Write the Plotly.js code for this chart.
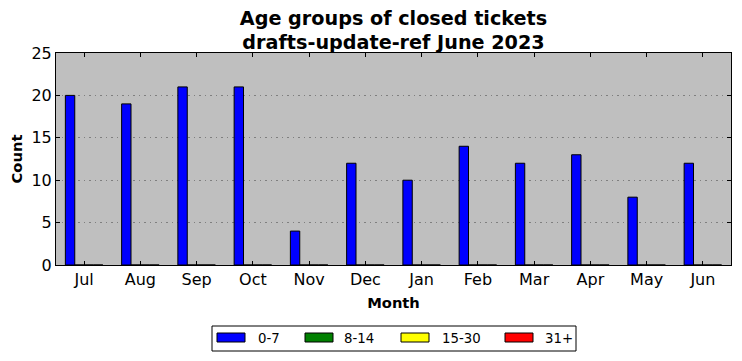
<!DOCTYPE html>
<html>
<head>
<meta charset="utf-8">
<script src="https://cdn.plot.ly/plotly-3.0.1.min.js"></script>
<style>html,body{margin:0;padding:0;background:#fff;}#chart{width:742px;height:361px;}</style>
</head>
<body>
<div id="chart"></div>
<script>
const months = ["Jul","Aug","Sep","Oct","Nov","Dec","Jan","Feb","Mar","Apr","May","Jun"];
const age0to7 = [20,19,21,21,4,12,10,14,12,13,8,12];
const age8to14 = [0,0,0,0,0,0,0,0,0,0,0,0];
const age15to30 = [0,0,0,0,0,0,0,0,0,0,0,0];
const age31plus = [0,0,0,0,0,0,0,0,0,0,0,0];
const seriesNames = ["0-7","8-14","15-30","31+"];
const seriesColors = ["#0000ff","#008000","#ffff00","#ff0000"];
const seriesValues = [age0to7, age8to14, age15to30, age31plus];

const font = "DejaVu Sans, sans-serif";
const traces = seriesValues.map((vals, i) => ({
  type: "bar",
  name: seriesNames[i],
  x: months,
  y: vals,
  showlegend: false,
  marker: {color: seriesColors[i], line: {color: "#000", width: 1}}
}));

// plot area in pixels
const PL = 56, PR = 731, PT = 53, PB = 265;
const px = x => (x - PL) / (PR - PL);
const py = y => (PB - y) / (PB - PT);

// legend drawn as layout shapes + annotations (matplotlib-like wide patches)
const legendShapes = [{
  type: "rect", xref: "paper", yref: "paper",
  x0: px(212), x1: px(576), y0: py(351), y1: py(326),
  line: {color: "#000", width: 1}, fillcolor: "#fff", layer: "above"
}];
const legendAnnots = [];
const patchX = [217, 305, 401, 505];
const textX = [256, 342, 440, 543];
seriesNames.forEach((name, i) => {
  legendShapes.push({
    type: "rect", xref: "paper", yref: "paper",
    x0: px(patchX[i]), x1: px(patchX[i] + 28), y0: py(342), y1: py(333),
    line: {color: "#000", width: 1}, fillcolor: seriesColors[i], layer: "above"
  });
  legendAnnots.push({
    xref: "paper", yref: "paper", x: px(textX[i]), y: py(338),
    xanchor: "left", yanchor: "middle", showarrow: false,
    text: name, font: {family: font, size: 13.3, color: "#000"}
  });
});

const layout = {
  width: 742, height: 361,
  margin: {l: PL, r: 742 - PR, t: PT, b: 361 - PB, autoexpand: false},
  paper_bgcolor: "#fff",
  plot_bgcolor: "#bfbfbf",
  barmode: "group",
  bargap: 1/3,
  bargroupgap: 0,
  showlegend: false,
  title: {
    text: "<b>Age groups of closed tickets<br>drafts-update-ref June 2023</b>",
    font: {family: font, size: 19.2, color: "#000"},
    x: 0.5, xref: "paper", xanchor: "center",
    y: 1 - 24.5/361, yref: "container", yanchor: "top"
  },
  xaxis: {
    type: "category",
    range: [-0.5, 11.5],
    automargin: false,
    showline: true, linecolor: "#000", linewidth: 1, mirror: "ticks",
    ticks: "inside", ticklen: 4, tickcolor: "#000",
    showgrid: false, zeroline: false,
    tickfont: {family: font, size: 16, color: "#000"},
    title: {text: "<b>Month</b>", font: {family: font, size: 14.7, color: "#000"}, standoff: 9}
  },
  yaxis: {
    range: [0, 25], dtick: 5, tick0: 0,
    automargin: false,
    showline: true, linecolor: "#000", linewidth: 1, mirror: "ticks",
    ticks: "inside", ticklen: 4, tickcolor: "#000",
    showgrid: true, gridcolor: "#555", griddash: "1.5px,4px", gridwidth: 0.6,
    zeroline: false,
    tickfont: {family: font, size: 16, color: "#000"},
    title: {text: "<b>Count</b>", font: {family: font, size: 14.7, color: "#000"}, standoff: 5}
  },
  shapes: legendShapes,
  annotations: legendAnnots
};

Plotly.newPlot("chart", traces, layout, {displayModeBar: false, staticPlot: true});
</script>
</body>
</html>
